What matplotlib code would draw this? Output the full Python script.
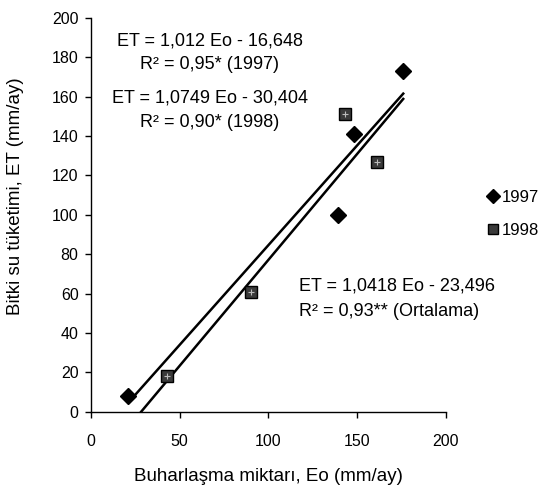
import numpy as np
import matplotlib
matplotlib.use("Agg")
import matplotlib.pyplot as plt

plt.rcParams['font.family'] = ['Liberation Sans', 'DejaVu Sans']

# Data
eo_1997 = [21, 139, 148, 176]
et_1997 = [8, 100, 141, 173]
eo_1998 = [43, 90, 143, 161]
et_1998 = [18, 61, 151, 127]

# Regression coefficients (slope, intercept) and line ranges
coef_1997 = (1.012, -16.648)
coef_1998 = (1.0749, -30.404)
xr_1997 = (21, 176)
xr_1998 = (-coef_1998[1] / coef_1998[0], 176)

fig = plt.figure(figsize=(5.47, 4.95), dpi=100)
ax = fig.add_axes([0.1664, 0.1683, 0.6486, 0.7959])

# trend lines
for (a, b), (x0, x1) in [(coef_1997, xr_1997), (coef_1998, xr_1998)]:
    xs = np.array([x0, x1])
    ax.plot(xs, a * xs + b, color='black', lw=1.8, zorder=2)

ax.plot(eo_1997, et_1997, linestyle='none', marker='D', ms=8,
        mfc='black', mec='black', zorder=3, label='1997')
ax.plot(eo_1998, et_1998, linestyle='none', marker='s', ms=8,
        mfc='#3a3a3a', mec='black', zorder=3, label='1998')
ax.plot(eo_1998, et_1998, linestyle='none', marker='+', ms=4,
        mec='#bbbbbb', mew=0.8, zorder=4)

ax.set_xlim(0, 200)
ax.set_ylim(0, 200)
ax.set_xticks(np.arange(0, 201, 50))
ax.set_yticks(np.arange(0, 201, 20))
ax.spines['top'].set_visible(False)
ax.spines['right'].set_visible(False)
ax.tick_params(direction='out', length=4, width=1, labelsize=11.5, pad=5)
ax.tick_params(axis='x', pad=12)
ax.spines['left'].set_linewidth(1)
ax.spines['bottom'].set_linewidth(1)

ax.set_xlabel('Buharlaşma miktarı, Eo (mm/ay)', fontsize=13.5, labelpad=14)
ax.set_ylabel('Bitki su tüketimi, ET (mm/ay)', fontsize=13.5)
ax.yaxis.set_label_coords(-0.19, 0.547)

fs = 13
ax.text(67, 188, 'ET = 1,012 Eo - 16,648', ha='center', va='center', fontsize=fs)
ax.text(67, 176, 'R² = 0,95* (1997)', ha='center', va='center', fontsize=fs)
ax.text(67, 159, 'ET = 1,0749 Eo - 30,404', ha='center', va='center', fontsize=fs)
ax.text(67, 147, 'R² = 0,90* (1998)', ha='center', va='center', fontsize=fs)
ax.text(117, 64, 'ET = 1,0418 Eo - 23,496', ha='left', va='center', fontsize=fs)
ax.text(117, 51, 'R² = 0,93** (Ortalama)', ha='left', va='center', fontsize=fs)

leg = ax.legend(loc='center left', bbox_to_anchor=(0.876, 0.568),
                bbox_transform=fig.transFigure, frameon=False,
                fontsize=12, handlelength=0.8, handletextpad=0.15,
                labelspacing=1.1, borderaxespad=0, markerscale=0.85)

fig.savefig('out.png', dpi=100, facecolor='white')
